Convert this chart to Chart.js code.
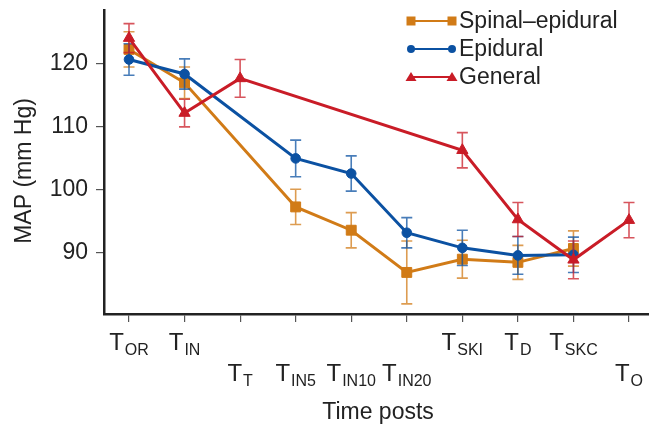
<!DOCTYPE html>
<html>
<head>
<meta charset="utf-8">
<script src="https://cdn.jsdelivr.net/npm/chart.js@4"></script>
<style>
  body { margin: 0; background: #fff; }
  #wrap { width: 649px; height: 427px; }
</style>
</head>
<body>
<div id="wrap"><canvas id="grafik" width="649" height="427"></canvas></div>
<script>
// Time posts: T + subscript
const tickSub = ['OR', 'IN', 'T', 'IN5', 'IN10', 'IN20', 'SKI', 'D', 'SKC', 'O'];
const tickRow = [0, 0, 1, 1, 1, 1, 0, 0, 0, 1];
const yTicks = [90, 100, 110, 120];

const seriesNames = ['Spinal\u2013epidural', 'Epidural', 'General'];

// MAP means (null = not measured at that post)
const spinalMean = [122.2, 116.9, null, 97.2, 93.5, 86.8, 88.9, 88.4, 90.6, null];
const spinalErr  = [2.8, 2.5, null, 2.8, 2.8, 5.0, 3.0, 2.7, 2.8, null];
const epiduralMean = [120.6, 118.3, null, 104.9, 102.5, 93.1, 90.7, 89.5, 89.6, null];
const epiduralErr  = [2.5, 2.4, null, 2.9, 2.8, 2.4, 2.8, 3.0, 2.8, null];
const generalMean = [124.0, 112.1, 117.6, null, null, null, 106.2, 95.2, 88.8, 95.1];
const generalErr  = [2.3, 2.2, 3.0, null, null, null, 2.8, 2.7, 3.0, 2.8];

const FONT = '"Liberation Sans", Arial, Helvetica, sans-serif';
const TEXT = '#222';
const colors = ['#d17b17', '#0b51a2', '#c91c27'];
const errColors = ['rgba(209,123,23,0.75)', 'rgba(11,81,162,0.75)', 'rgba(201,28,39,0.75)'];
const shapes = ['rect', 'circle', 'triangle'];
const radii = [7, 4.8, 6.5];
const means = [spinalMean, epiduralMean, generalMean];
const errs = [spinalErr, epiduralErr, generalErr];

function toPoints(arr) {
    return arr.map((v, i) => ({ x: i, y: v }));
}

// error bars, drawn just before each line so stacking follows the series
const errorBars = {
    id: 'errorBars',
    beforeDatasetDraw(chart, args) {
        const i = args.index;
        const ctx = chart.ctx;
        const xs = chart.scales.x, ys = chart.scales.y;
        ctx.save();
        ctx.strokeStyle = errColors[i];
        ctx.lineWidth = 1.6;
        means[i].forEach((v, j) => {
            if (v === null) return;
            const x = xs.getPixelForValue(j);
            const y1 = ys.getPixelForValue(v + errs[i][j]);
            const y2 = ys.getPixelForValue(v - errs[i][j]);
            ctx.beginPath();
            ctx.moveTo(x, y1); ctx.lineTo(x, y2);
            ctx.moveTo(x - 5.5, y1); ctx.lineTo(x + 5.5, y1);
            ctx.moveTo(x - 5.5, y2); ctx.lineTo(x + 5.5, y2);
            ctx.stroke();
        });
        ctx.restore();
    }
};

function drawMarker(ctx, shape, x, y, color) {
    ctx.fillStyle = color;
    ctx.beginPath();
    if (shape === 'rect') {
        ctx.rect(x - 4.5, y - 4.5, 9, 9);
    } else if (shape === 'circle') {
        ctx.arc(x, y, 4, 0, Math.PI * 2);
    } else {
        ctx.moveTo(x, y - 5);
        ctx.lineTo(x + 5.5, y + 4);
        ctx.lineTo(x - 5.5, y + 4);
        ctx.closePath();
    }
    ctx.fill();
}

// axis labels with subscripts, titles, legend
const decorations = {
    id: 'decorations',
    afterDraw(chart) {
        const ctx = chart.ctx;
        const xs = chart.scales.x;
        ctx.save();
        ctx.fillStyle = TEXT;
        ctx.textBaseline = 'alphabetic';

        tickSub.forEach((sub, i) => {
            const cx = xs.getPixelForValue(i);
            const base = tickRow[i] === 0 ? 350 : 381;
            ctx.font = '24px ' + FONT;
            const wMain = ctx.measureText('T').width;
            ctx.font = '16px ' + FONT;
            const wSub = ctx.measureText(sub).width;
            const left = cx - (wMain + wSub + 1) / 2;
            ctx.textAlign = 'left';
            ctx.font = '24px ' + FONT;
            ctx.fillText('T', left, base);
            ctx.font = '16px ' + FONT;
            ctx.fillText(sub, left + wMain + 1, base + 5);
        });

        // x title
        ctx.font = '23px ' + FONT;
        ctx.textAlign = 'center';
        ctx.fillText('Time posts', 378, 419);

        // y title
        ctx.save();
        ctx.translate(31, 171);
        ctx.rotate(-Math.PI / 2);
        ctx.textAlign = 'center';
        ctx.fillText('MAP (mm Hg)', 0, 0);
        ctx.restore();

        // legend
        seriesNames.forEach((name, k) => {
            const y = 21 + k * 28;
            ctx.strokeStyle = colors[k];
            ctx.lineWidth = 2.2;
            ctx.beginPath();
            ctx.moveTo(411, y); ctx.lineTo(452, y);
            ctx.stroke();
            drawMarker(ctx, shapes[k], 411, y, colors[k]);
            drawMarker(ctx, shapes[k], 452, y, colors[k]);
            ctx.fillStyle = TEXT;
            ctx.font = '23px ' + FONT;
            ctx.textAlign = 'left';
            ctx.textBaseline = 'middle';
            ctx.fillText(name, 459, y + 1);
            ctx.textBaseline = 'alphabetic';
        });
        ctx.restore();
    }
};

function noPad(scale) {
    scale.paddingTop = 0;
    scale.paddingBottom = 0;
    scale.paddingLeft = 0;
    scale.paddingRight = 0;
}

const datasets = seriesNames.map((name, k) => ({
    label: name,
    data: toPoints(means[k]),
    borderColor: colors[k],
    backgroundColor: colors[k],
    borderWidth: 3,
    pointStyle: shapes[k],
    pointRadius: radii[k],
    pointBorderWidth: 1,
    spanGaps: true,
    tension: 0,
    clip: false,
    order: 3 - k,
}));

new Chart(document.getElementById('grafik'), {
    type: 'line',
    data: { datasets: datasets },
    options: {
        responsive: false,
        animation: false,
        layout: { autoPadding: false, padding: { top: 10, right: 0, left: 0, bottom: 0 } },
        plugins: {
            legend: { display: false },
            tooltip: { enabled: false },
        },
        scales: {
            x: {
                type: 'linear',
                min: -0.45,
                max: 9.36,
                afterBuildTicks(scale) {
                    scale.ticks = tickSub.map((s, i) => ({ value: i }));
                },
                afterFit(scale) { scale.height = 113; noPad(scale); },
                ticks: { display: false },
                grid: {
                    drawOnChartArea: false,
                    drawTicks: true,
                    tickLength: 8,
                    color: '#555',
                    lineWidth: 1.2,
                },
                border: { display: true, color: '#222', width: 2.5 },
            },
            y: {
                min: 80.2,
                max: 128.46,
                afterBuildTicks(scale) {
                    scale.ticks = yTicks.map(v => ({ value: v }));
                },
                afterFit(scale) { scale.width = 104; noPad(scale); },
                ticks: {
                    color: TEXT,
                    font: { family: FONT, size: 23 },
                    padding: 8,
                },
                grid: {
                    drawOnChartArea: false,
                    drawTicks: true,
                    tickLength: 8,
                    color: '#555',
                    lineWidth: 1.2,
                },
                border: { display: true, color: '#222', width: 2.5 },
            }
        }
    },
    plugins: [errorBars, decorations],
});
</script>
</body>
</html>
